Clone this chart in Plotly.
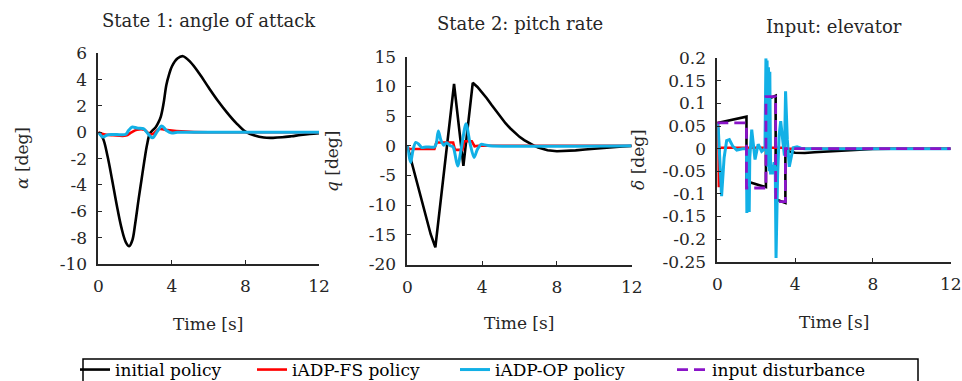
import plotly.graph_objects as go

W, H = 962, 381

# ---------------- data ----------------
x_ticks = [0, 4, 8, 12]
x_ticktext = ["0", "4", "8", "12"]

# State 1: angle of attack [deg]
t_a_init = [0, 0.25, 0.5, 0.75, 1.0, 1.25, 1.5, 1.68, 1.85, 2.0, 2.2, 2.35, 2.5, 2.65, 2.8, 2.95,
            3.1, 3.25, 3.4, 3.55, 3.7, 3.85, 4.0, 4.3, 4.6, 5.0, 5.5, 6.0, 6.5, 7.0, 7.5, 8.0,
            8.5, 9.0, 9.5, 10.0, 10.5, 11.0, 11.5, 12.0]
a_init = [0, -0.45, -1.8, -3.6, -5.5, -7.2, -8.35, -8.65, -8.2, -7.0, -5.0, -3.6, -2.2, -0.95, -0.1, 0.15,
          0.35, 0.7, 1.2, 2.2, 3.6, 4.4, 5.0, 5.6, 5.78, 5.35, 4.45, 3.4, 2.4, 1.5, 0.7, 0.05,
          -0.25, -0.4, -0.42, -0.38, -0.3, -0.2, -0.12, -0.06]
t_a_fs = [0, 0.3, 0.8, 1.5, 1.8, 2.1, 2.5, 2.8, 3.0, 3.3, 3.6, 4.0, 4.5, 5.0, 6.0, 12]
a_fs = [0, -0.15, -0.22, -0.25, 0.0, 0.2, 0.2, -0.15, -0.1, 0.25, 0.2, 0.13, 0.07, 0.03, 0, 0]
t_a_op = [0, 0.12, 0.25, 0.45, 0.7, 1.0, 1.5, 1.65, 1.85, 2.1, 2.45, 2.7, 2.95, 3.2, 3.45, 3.7, 3.95, 4.3, 5.0, 12]
a_op = [0, -0.2, -0.36, -0.22, -0.17, -0.17, -0.15, 0.15, 0.4, 0.32, 0.28, -0.1, -0.42, 0.05, 0.48, 0.15, -0.04, 0, 0, 0]
a_ticks = [-10, -8, -6, -4, -2, 0, 2, 4, 6]
a_ticktext = ["-10", "-8", "-6", "-4", "-2", "0", "2", "4", "6"]

# State 2: pitch rate [deg/s]
t_q_init = [0, 0.25, 0.5, 0.75, 1.0, 1.25, 1.5, 2.5, 3.0, 3.5, 3.75, 4.0, 4.25, 4.5, 4.75, 5.0, 5.25,
            5.5, 5.75, 6.0, 6.25, 6.5, 6.75, 7.0, 7.5, 8.0, 8.5, 9.0, 9.5, 10.0, 10.5, 11.0, 11.5, 12.0]
q_init = [0, -3.0, -6.2, -9.2, -12.2, -14.9, -17.1, 10.4, -3.4, 10.6, 9.9, 9.0, 8.0, 6.9, 5.8, 4.75, 3.8,
          2.95, 2.2, 1.5, 0.95, 0.45, 0.05, -0.3, -0.75, -0.92, -0.9, -0.78, -0.62, -0.47, -0.33, -0.21, -0.12, -0.05]
t_q_fs = [0, 0.08, 1.45, 1.55, 2.45, 2.55, 2.95, 3.05, 3.45, 3.6, 3.8, 12]
q_fs = [0, -0.55, -0.55, 0.55, 0.55, -0.7, -0.7, 0.75, 0.75, -0.1, 0, 0]
t_q_op = [0, 0.08, 0.18, 0.3, 0.45, 0.6, 0.77, 1.0, 1.45, 1.55, 1.66, 1.8, 1.95, 2.1, 2.3, 2.45, 2.69,
          2.9, 3.14, 3.35, 3.57, 3.75, 3.95, 4.15, 4.4, 12]
q_op = [0, -1.5, -2.8, -0.8, 0.56, 0.3, -0.3, -0.2, -0.2, 0.4, 2.5, 0.9, 0.1, 0.5, 0.0, -0.2, -3.4,
        -0.2, 3.7, 0.5, -1.96, -0.6, 0.25, 0.15, 0, 0]
q_ticks = [-20, -15, -10, -5, 0, 5, 10, 15]
q_ticktext = ["-20", "-15", "-10", "-5", "0", "5", "10", "15"]

# Input: elevator [deg]
t_d_init = [0, 1.5, 1.5, 2.5, 2.5, 3.0, 3.0, 3.5, 3.5, 3.7, 4.0, 4.5, 5.0, 5.5, 6.0, 6.5, 7.0, 7.5, 8.0, 9.0, 12]
d_init = [0.057, 0.071, -0.072, -0.085, 0.108, 0.117, -0.112, -0.12, -0.002, -0.006, -0.009, -0.0095,
          -0.008, -0.0065, -0.005, -0.0035, -0.002, -0.001, -0.0003, 0, 0]
t_d_fs = [0, 0.04, 0.07, 0.12, 3.5, 3.6, 12]
d_fs = [0.057, 0.057, -0.085, 0.002, 0.002, 0, 0]
t_d_op = [0, 0.05, 0.22, 0.35, 0.48, 0.62, 0.8, 1.0, 1.3, 1.5, 1.52, 1.55, 1.58, 1.61, 1.64, 1.67,
          1.77, 1.94, 2.1, 2.28, 2.45, 2.5, 2.53, 2.56, 2.6, 2.63, 2.67, 2.7, 2.74, 2.83, 2.92, 2.98,
          3.02, 3.1, 3.18, 3.26, 3.36, 3.45, 3.51, 3.6, 3.7, 3.8, 3.9, 4.1, 4.3, 4.5, 12]
d_op = [0.057, 0.045, -0.105, -0.02, 0.018, 0.02, 0.005, -0.003, 0.0, 0.0, -0.142, 0.0, -0.14, 0.0,
        -0.14, -0.02, 0.042, -0.024, 0.01, -0.006, 0.0, 0.2, -0.03, 0.195, -0.04, 0.18, -0.05, 0.17,
        -0.054, -0.054, -0.03, -0.045, -0.242, -0.06, 0.03, 0.061, 0.02, -0.015, 0.127, 0.02, -0.04,
        -0.02, 0.002, 0.004, 0.001, 0, 0]
t_dist = [0, 1.5, 2.5, 3.0, 3.5, 12]
d_dist = [0.057, -0.087, 0.115, -0.117, 0, 0]
d_ticks = [-0.25, -0.2, -0.15, -0.1, -0.05, 0, 0.05, 0.1, 0.15, 0.2]
d_ticktext = ["-0.25", "-0.2", "-0.15", "-0.1", "-0.05", "0", "0.05", "0.1", "0.15", "0.2"]

names = ["initial policy", "iADP-FS policy", "iADP-OP policy", "input disturbance"]
colors = ["#000000", "#FF0000", "#12B0E6", "#8A14C8"]

titles = ["State 1: angle of attack", "State 2: pitch rate", "Input: elevator"]
ylabels = ["<i>α</i> [deg]", "<i>q</i> [deg]", "<i>δ</i> [deg]"]
xlabel = "Time [s]"

# ---------------- layout helpers ----------------
FONT = "DejaVu Serif"
TXT = "#262626"


def fx(p):
    return p / W


def fy(p):
    return 1 - p / H


fig = go.Figure()

LW = 2.6
# panel 1
fig.add_trace(go.Scatter(x=t_a_init, y=a_init, mode="lines", line=dict(color=colors[0], width=LW, shape="spline"),
                         xaxis="x", yaxis="y", showlegend=False, legendgroup="g0"))
fig.add_trace(go.Scatter(x=t_a_fs, y=a_fs, mode="lines", line=dict(color=colors[1], width=LW, shape="spline"),
                         xaxis="x", yaxis="y", showlegend=False, legendgroup="g1"))
fig.add_trace(go.Scatter(x=t_a_op, y=a_op, mode="lines", line=dict(color=colors[2], width=LW + 0.4, shape="spline"),
                         xaxis="x", yaxis="y", showlegend=False, legendgroup="g2"))
# panel 2
fig.add_trace(go.Scatter(x=t_q_init, y=q_init, mode="lines", line=dict(color=colors[0], width=LW),
                         xaxis="x2", yaxis="y2", showlegend=False, legendgroup="g0"))
fig.add_trace(go.Scatter(x=t_q_fs, y=q_fs, mode="lines", line=dict(color=colors[1], width=LW),
                         xaxis="x2", yaxis="y2", showlegend=False, legendgroup="g1"))
fig.add_trace(go.Scatter(x=t_q_op, y=q_op, mode="lines", line=dict(color=colors[2], width=LW + 0.4, shape="spline", smoothing=0.8),
                         xaxis="x2", yaxis="y2", showlegend=False, legendgroup="g2"))
# panel 3 (carries the legend entries)
fig.add_trace(go.Scatter(x=t_d_init, y=d_init, mode="lines", name=names[0], line=dict(color=colors[0], width=LW),
                         xaxis="x3", yaxis="y3", legend="legend", legendgroup="g0"))
fig.add_trace(go.Scatter(x=t_d_fs, y=d_fs, mode="lines", name=names[1], line=dict(color=colors[1], width=LW),
                         xaxis="x3", yaxis="y3", legend="legend2", legendgroup="g1"))
fig.add_trace(go.Scatter(x=t_d_op, y=d_op, mode="lines", name=names[2], line=dict(color=colors[2], width=LW + 0.4),
                         xaxis="x3", yaxis="y3", legend="legend3", legendgroup="g2"))
fig.add_trace(go.Scatter(x=t_dist, y=d_dist, mode="lines", name=names[3],
                         line=dict(color=colors[3], width=LW + 0.2, shape="hv", dash="11px,6px"),
                         xaxis="x3", yaxis="y3", legend="legend4", legendgroup="g3"))

panels = [
    dict(x=(98.3, 319.0), y=(53.3, 264.0), yr=[-10, 6], yt=a_ticks, ytt=a_ticktext),
    dict(x=(407.3, 631.7), y=(56.7, 264.5), yr=[-20, 15], yt=q_ticks, ytt=q_ticktext),
    dict(x=(717.3, 950.7), y=(58.3, 261.7), yr=[-0.25, 0.2], yt=d_ticks, ytt=d_ticktext),
]

axis_common = dict(showline=True, linecolor=TXT, linewidth=1.6, ticks="inside", ticklen=4,
                   tickwidth=1, tickcolor=TXT, showgrid=False, zeroline=False, mirror=False,
                   tickfont=dict(family=FONT, size=17, color=TXT))

layout = dict(width=W, height=H, margin=dict(l=0, r=0, t=0, b=0, autoexpand=False),
              paper_bgcolor="white", plot_bgcolor="white", font=dict(family=FONT, color=TXT))

for i, p in enumerate(panels):
    sx = "" if i == 0 else str(i + 1)
    layout["xaxis" + sx] = dict(domain=[fx(p["x"][0]), fx(p["x"][1])], range=[0, 12],
                                tickvals=x_ticks, ticktext=x_ticktext, anchor="y" + sx,
                                ticklabelstandoff=6, **axis_common)
    layout["yaxis" + sx] = dict(domain=[fy(p["y"][1]), fy(p["y"][0])], range=p["yr"],
                                tickvals=p["yt"], ticktext=p["ytt"], anchor="x" + sx,
                                ticklabelstandoff=6, **axis_common)

ann = []
title_pos = [(208.6, 20.5), (519.5, 23.5), (834.0, 26.0)]
for (cx, cy), t in zip(title_pos, titles):
    ann.append(dict(text=t, x=fx(cx), y=fy(cy), xref="paper", yref="paper", showarrow=False,
                    xanchor="center", yanchor="middle", font=dict(family=FONT, size=18, color=TXT)))
xl_pos = [(207.5, 324), (518.5, 323), (833.5, 322)]
for cx, cy in xl_pos:
    ann.append(dict(text=xlabel, x=fx(cx), y=fy(cy), xref="paper", yref="paper", showarrow=False,
                    xanchor="center", yanchor="middle", font=dict(family=FONT, size=17, color=TXT)))
yl_pos = [(22, 158), (332, 162), (638, 160)]
for (cx, cy), t in zip(yl_pos, ylabels):
    ann.append(dict(text=t, x=fx(cx), y=fy(cy), xref="paper", yref="paper", showarrow=False, textangle=-90,
                    xanchor="center", yanchor="middle", font=dict(family=FONT, size=17, color=TXT)))
layout["annotations"] = ann

# legends, one per entry, placed in a single framed row
leg_x = [75, 252, 455, 672]
for i, lx in enumerate(leg_x):
    key = "legend" if i == 0 else "legend" + str(i + 1)
    layout[key] = dict(x=fx(lx), y=fy(370), xanchor="left", yanchor="middle", orientation="h",
                       bgcolor="rgba(0,0,0,0)", borderwidth=0,
                       font=dict(family=FONT, size=17, color="#000000"))

layout["shapes"] = [dict(type="rect", xref="paper", yref="paper", x0=fx(83), x1=fx(918),
                         y0=fy(400), y1=fy(359), line=dict(color="#000000", width=1.5))]

fig.update_layout(**layout)
fig.write_html("out.html", config={"displayModeBar": False},
               post_script="document.body.style.margin='0';document.body.style.overflow='hidden';")
